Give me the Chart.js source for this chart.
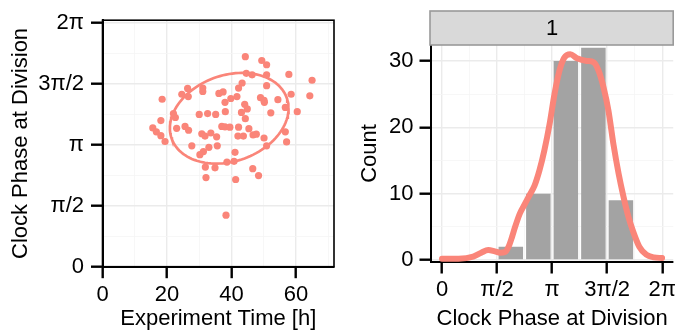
<!DOCTYPE html>
<html><head><meta charset="utf-8">
<script src="https://cdn.jsdelivr.net/npm/chart.js@4/dist/chart.umd.min.js"></script>
<style>
html,body{margin:0;padding:0;background:#fff;}
#wrap{position:relative;width:679px;height:336px;overflow:hidden;background:#fff;}
#c1{position:absolute;left:0;top:0;}
#c2{position:absolute;left:345px;top:0;}
</style></head><body>
<div id="wrap"><canvas id="c1" width="345" height="336"></canvas><canvas id="c2" width="334" height="336"></canvas></div>
<script>
const PI = Math.PI;
// ---- Left panel: scatter (experiment time vs clock phase) ----
const scatterTime = [44.3,49.4,50.9,44.6,46.4,50.9,57.8,65.0,43.3,42.2,50.9,58.5,64.3,41.7,39.8,49.0,50.1,50.2,54.4,44.1,44.9,56.7,60.4,43.1,52.2,44.3,42.2,45.4,46.7,47.7,56.7,26.4,24.6,26.6,31.1,31.1,36.1,37.4,38.0,18.5,22.0,22.6,18.1,30.0,32.6,35.1,38.1,15.6,16.7,18.1,19.4,23.0,25.6,26.7,30.8,31.8,33.6,35.4,37.0,38.0,39.5,42.0,43.7,50.1,57.1,27.7,33.0,31.3,30.2,35.6,41.1,50.9,38.6,40.8,31.9,34.9,46.6,48.4,32.1,41.3,38.3];
const scatterPhase = [5.42,5.32,5.21,4.99,4.95,4.95,4.96,4.81,4.74,4.61,4.67,4.45,4.41,4.39,4.34,4.36,4.29,4.24,4.31,4.19,4.07,4.11,4.00,3.98,3.97,3.82,3.60,3.56,3.40,3.42,3.48,4.60,4.45,4.39,4.61,4.52,4.47,4.51,4.24,4.32,3.95,3.85,3.77,3.93,3.95,3.93,4.00,3.58,3.48,3.38,3.23,3.57,3.62,3.52,3.43,3.37,3.45,3.35,3.62,3.61,3.60,3.37,3.37,3.32,3.22,3.12,3.08,2.97,2.89,3.12,2.95,3.12,2.70,2.72,2.57,2.55,2.53,2.35,2.30,2.25,1.33];
// data ellipse (data units)
const ellipseCenterTime = 39.3;
const ellipseCenterPhase = 3.83;
const ellipseHalfWidthTime = 18.4;
const ellipseHalfHeightPhase = 1.17;
const ellipseShift = 1.35;
const timeTicks = [0,10,20,30,40,50,60,70];
const timeTickLabels = ['0','','20','','40','','60',''];
const phaseTicks = [0,PI/4,PI/2,3*PI/4,PI,5*PI/4,3*PI/2,7*PI/4,2*PI];
const phaseTickLabels = ['0','','π/2','','π','','3π/2','','2π'];
// ---- Right panel: histogram + density ----
const histBinCenters = [5*PI/8,7*PI/8,9*PI/8,11*PI/8,13*PI/8];
const histCounts = [2,10,30,32,9];
const countTicks = [0,5,10,15,20,25,30];
const countTickLabels = ['0','','10','','20','','30'];
const densityPhase = [0,0.47,0.89,1.12,1.32,1.51,1.66,1.80,1.90,2.00,2.08,2.22,2.36,2.50,2.64,2.78,2.92,3.07,3.21,3.35,3.49,3.66,3.85,4.13,4.33,4.47,4.61,4.75,4.89,5.04,5.18,5.32,5.46,5.63,5.83,6.05,6.28];
const densityCount = [0.2,0.2,0.5,1.1,1.5,1.3,1.1,1.2,2.0,3.5,4.9,7.0,8.4,9.8,11.2,13.5,16.5,20.5,25,28.5,30.5,31,30.4,30,29.8,28.5,26,22.5,17.5,13,9.5,6.5,4.2,2,0.8,0.4,0.3];
const stripLabel = '1';

const FONT = "'Liberation Sans', Arial, Helvetica, sans-serif";
const SALMON = '#FA8579';
const MAJOR = '#EBEBEB', MINOR = '#F5F5F5';
const FS = 22;

const ellipsePts = [];
for (let i = 0; i <= 120; i++) {
  const t = i / 120 * 2 * PI;
  ellipsePts.push({x: ellipseCenterTime + ellipseHalfWidthTime * Math.cos(t),
                   y: ellipseCenterPhase + ellipseHalfHeightPhase * Math.cos(t - ellipseShift)});
}

function axisCfg(o) {
  return {
    type: 'linear', min: o.min, max: o.max, offset: false,
    afterBuildTicks: s => { s.ticks = o.ticks.map(v => ({value: v})); },
    afterFit: o.fit,
    grid: {
      offset: false,
      color: c => (c.tick && o.labels[c.index] !== '') ? MAJOR : MINOR,
      lineWidth: c => (c.tick && o.labels[c.index] !== '') ? 1.4 : 0.8,
      tickLength: 11.5,
      tickColor: c => (o.labels[c.index] !== '') ? '#000' : 'rgba(0,0,0,0)',
      tickWidth: 2.4
    },
    border: {display: true, color: '#000', width: 2},
    ticks: {autoSkip: false, maxRotation: 0, color: '#000', padding: o.pad,
            font: {family: FONT, size: FS},
            callback: (v, i) => o.labels[i]},
    title: {display: true, text: o.title, color: '#000', font: {family: FONT, size: FS},
            padding: o.tpad}
  };
}

const panelBorder = {
  id: 'panelBorder',
  afterDraw(chart) {
    const {ctx, chartArea: a} = chart;
    ctx.save(); ctx.strokeStyle = '#000'; ctx.lineWidth = 1.6;
    ctx.strokeRect(a.left, a.top, a.right - a.left, a.bottom - a.top);
    ctx.restore();
  }
};

new Chart(document.getElementById('c1'), {
  type: 'scatter',
  data: {datasets: [
    {data: scatterTime.map((t, i) => ({x: t, y: scatterPhase[i]})), pointRadius: 3.6,
     pointBackgroundColor: SALMON, pointBorderWidth: 0, order: 1},
    {data: ellipsePts, showLine: true, borderColor: SALMON, borderWidth: 2.7, pointRadius: 0,
     fill: false, tension: 0, order: 0}
  ]},
  options: {
    responsive: false, animation: false, devicePixelRatio: 1,
    layout: {padding: {left: 0, right: 11, top: 11.7, bottom: 0}},
    plugins: {legend: {display: false}, tooltip: {enabled: false}},
    scales: {
      x: axisCfg({min: 0, max: 71.8, ticks: timeTicks, labels: timeTickLabels, pad: 4,
                  title: 'Experiment Time [h]', tpad: {top: 0, bottom: 4},
                  fit: s => { s.height = 69.3; }}),
      y: axisCfg({min: 0, max: 6.36, ticks: phaseTicks, labels: phaseTickLabels, pad: 7,
                  title: 'Clock Phase at Division', tpad: {top: 8, bottom: 0},
                  fit: s => { s.width = 102.5; }})
    }
  },
  plugins: [panelBorder]
});

const strip = {
  id: 'strip',
  afterDraw(chart) {
    const {ctx, chartArea: a} = chart;
    ctx.save();
    ctx.fillStyle = '#D9D9D9'; ctx.strokeStyle = '#999999'; ctx.lineWidth = 1.6;
    ctx.fillRect(a.left - 1, 11, a.right - a.left + 1, 34);
    ctx.strokeRect(a.left - 1, 11, a.right - a.left + 1, 34);
    ctx.fillStyle = '#000'; ctx.font = FS + 'px ' + FONT;
    ctx.textAlign = 'center'; ctx.textBaseline = 'middle';
    ctx.fillText(stripLabel, (a.left + a.right) / 2, 29);
    ctx.restore();
  }
};

new Chart(document.getElementById('c2'), {
  type: 'bar',
  data: {datasets: [
    {type: 'line', data: densityPhase.map((p, i) => ({x: p, y: densityCount[i]})),
     borderColor: SALMON, borderWidth: 6, pointRadius: 0, cubicInterpolationMode: 'monotone',
     borderCapStyle: 'round', borderJoinStyle: 'round', fill: false, order: 0},
    {type: 'bar', data: histBinCenters.map((p, i) => ({x: p, y: histCounts[i]})),
     backgroundColor: '#A3A3A3', barPercentage: 0.89, categoryPercentage: 1, order: 1}
  ]},
  options: {
    responsive: false, animation: false, devicePixelRatio: 1,
    layout: {padding: {left: 0, right: 2, top: 45, bottom: 0}},
    plugins: {legend: {display: false}, tooltip: {enabled: false}},
    scales: {
      x: axisCfg({min: -0.314, max: 6.597, ticks: phaseTicks, labels: phaseTickLabels, pad: 3,
                  title: 'Clock Phase at Division', tpad: {top: 0, bottom: 4},
                  fit: s => { s.height = 74; }}),
      y: axisCfg({min: -0.3, max: 32.4, ticks: countTicks, labels: countTickLabels, pad: 6,
                  title: 'Count', tpad: {top: 12, bottom: 0},
                  fit: s => { s.width = 86; }})
    }
  },
  plugins: [strip]
});
</script>
</body></html>
